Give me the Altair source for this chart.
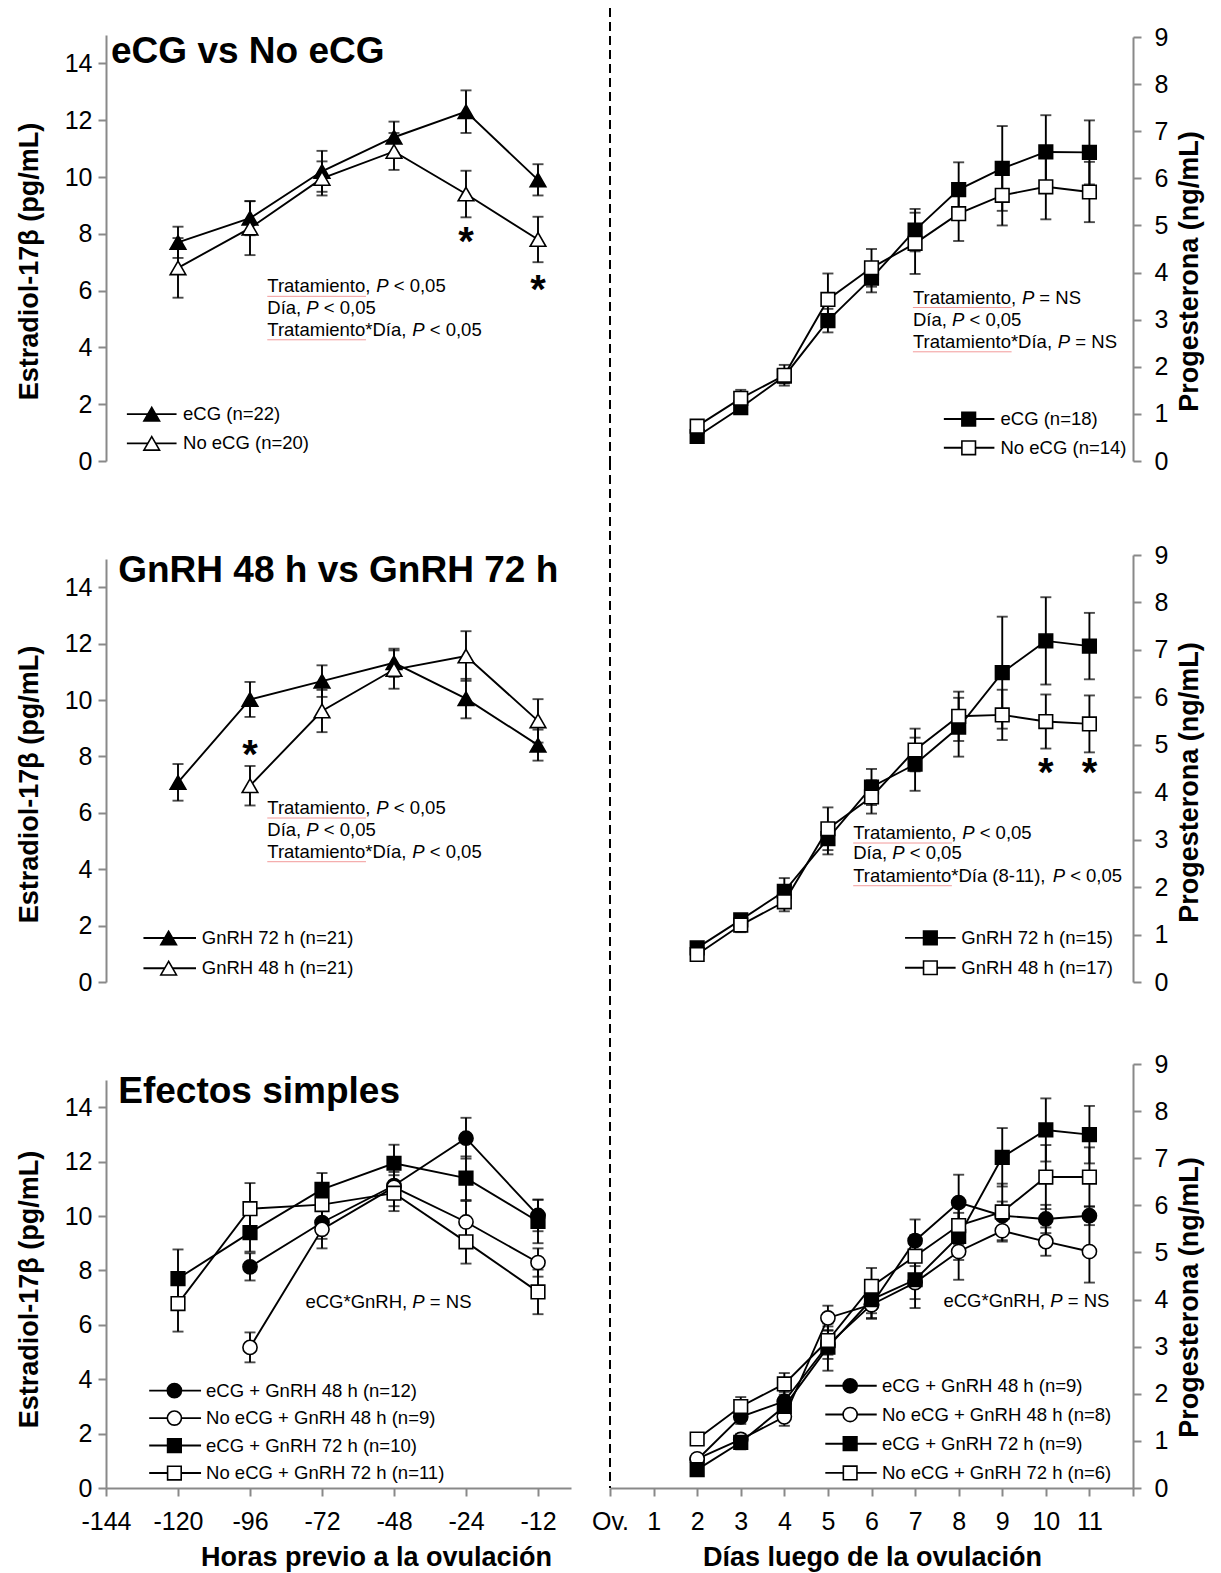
import json
import altair as alt
import pandas as pd

FONT = "Liberation Sans"
GREY = "#898989"

# ---------------------------------------------------------------- data
HOURS = ["-144", "-120", "-96", "-72", "-48", "-24", "-12"]
DAY_LABELS = ["Ov.", "1", "2", "3", "4", "5", "6", "7", "8", "9", "10", "11"]
SAMPLE_HOURS = HOURS[1:]
SAMPLE_DAYS = [2, 3, 4, 5, 6, 7, 8, 9, 10, 11]

# Estradiol-17β (pg/mL): eCG vs No eCG
e2_ecg = [7.7, 8.55, 10.2, 11.4, 12.3, 9.9]
e2_ecg_se = [0.55, 0.6, 0.72, 0.55, 0.75, 0.55]
e2_noecg = [6.8, 8.2, 9.95, 10.9, 9.4, 7.8]
e2_noecg_se = [1.05, 0.95, 0.6, 0.65, 0.82, 0.8]

# Progesterona (ng/mL): eCG vs No eCG
p4_ecg = [0.52, 1.13, 1.8, 2.98, 3.88, 4.9, 5.76, 6.21, 6.56, 6.55]
p4_ecg_se = [0.1, 0.08, 0.15, 0.25, 0.3, 0.45, 0.58, 0.9, 0.78, 0.68]
p4_noecg = [0.74, 1.33, 1.82, 3.43, 4.1, 4.62, 5.25, 5.64, 5.82, 5.71]
p4_noecg_se = [0.12, 0.18, 0.22, 0.55, 0.4, 0.65, 0.58, 0.64, 0.69, 0.64]

# Estradiol-17β: GnRH 72 h vs GnRH 48 h
e2_g72 = [7.08, 10.02, 10.67, 11.32, 10.05, 8.4]
e2_g72_se = [0.65, 0.62, 0.56, 0.5, 0.7, 0.55]
e2_g48 = [None, 6.96, 9.61, 11.08, 11.56, 9.26]
e2_g48_se = [None, 0.7, 0.75, 0.68, 0.88, 0.77]

# Progesterona: GnRH 72 h vs GnRH 48 h
p4_g72 = [0.72, 1.31, 1.91, 3.02, 4.11, 4.59, 5.37, 6.52, 7.19, 7.08]
p4_g72_se = [0.08, 0.12, 0.28, 0.33, 0.38, 0.56, 0.62, 1.18, 0.92, 0.7]
p4_g48 = [0.58, 1.2, 1.69, 3.23, 3.9, 4.89, 5.6, 5.63, 5.49, 5.44]
p4_g48_se = [0.08, 0.15, 0.2, 0.45, 0.35, 0.45, 0.52, 0.53, 0.57, 0.6]

# Estradiol-17β: efectos simples
e2_e48 = [None, 8.13, 9.76, 11.12, 12.86, 10.02]
e2_e48_se = [None, 0.5, 0.6, 0.5, 0.75, 0.58]
e2_n48 = [None, 5.17, 9.51, 11.06, 9.78, 8.29]
e2_n48_se = [None, 0.55, 0.7, 0.7, 0.77, 0.52]
e2_e72 = [7.7, 9.39, 10.98, 11.94, 11.39, 9.8]
e2_e72_se = [1.07, 0.7, 0.6, 0.68, 0.8, 0.8]
e2_n72 = [6.78, 10.27, 10.42, 10.84, 9.05, 7.21]
e2_n72_se = [1.03, 0.94, 0.6, 0.66, 0.8, 0.82]

# Progesterona: efectos simples
p4_e48 = [0.6, 1.51, 1.84, 3.04, 3.89, 5.25, 6.06, 5.78, 5.71, 5.78]
p4_e48_se = [0.1, 0.15, 0.2, 0.3, 0.28, 0.45, 0.59, 0.3, 0.3, 0.2]
p4_n48 = [0.62, 1.03, 1.51, 3.61, 3.89, 4.36, 5.02, 5.46, 5.23, 5.02]
p4_n48_se = [0.1, 0.12, 0.19, 0.26, 0.3, 0.35, 0.6, 0.23, 0.3, 0.66]
p4_e72 = [0.39, 0.97, 1.73, 2.99, 4.0, 4.42, 5.34, 7.02, 7.6, 7.5]
p4_e72_se = [0.1, 0.15, 0.2, 0.5, 0.29, 0.6, 0.5, 0.62, 0.67, 0.61]
p4_n72 = [1.04, 1.73, 2.21, 3.13, 4.28, 4.92, 5.57, 5.86, 6.6, 6.6]
p4_n72_se = [0.1, 0.2, 0.23, 0.3, 0.39, 0.45, 0.4, 0.6, 0.68, 0.63]

# ---------------------------------------------------------------- layout
LEFT_W, RIGHT_W = 465, 523
ROW_H = [426, 439, 424]
LEFT_TOP = [0, 16, 16]       # pixel offset of the 15 mark inside each row
RIGHT_TOP = [2, 12, 0]       # pixel offset of the 9 mark inside each row
ROW_GAP, COL_GAP = 82, 39
HOUR_STEP = 72.0

TRI, SQ, CIR = "triangle-up", "square", "circle"
MARK_SIZE = {TRI: 245, SQ: 185, CIR: 200}
STAT_SIZE = 18.5
LEG_SIZE = 18.5

# Liberation Sans advance widths (1/1000 em), for placing the italic P
ADV = {" ": 278, ",": 278, "*": 389, "<": 584, "=": 584, "(": 333, ")": 333,
       "-": 333, "T": 611, "r": 333, "a": 556, "t": 278, "m": 833, "i": 222,
       "e": 556, "n": 556, "o": 556, "D": 722, "í": 278, "P": 667, "N": 722,
       "S": 667, "c": 500, "C": 722, "G": 778, "R": 722, "H": 722}


def text_width(s, size):
    return sum(ADV.get(ch, 556) for ch in s) * size / 1000.0


def frame(xs, groups):
    rows = []
    for name, means, ses in groups:
        for x, m, s in zip(xs, means, ses):
            if m is None:
                continue
            rows.append({"x": x, "mean": m, "lo": m - s, "hi": m + s, "series": name})
    return pd.DataFrame(rows)


def point_style(shape, filled):
    return dict(shape=shape, filled=True, fill="black" if filled else "white",
                stroke="black", strokeWidth=1.6, size=MARK_SIZE[shape], opacity=1)


def axis_common():
    return dict(grid=False, domainColor=GREY, domainWidth=2, tickColor=GREY,
                tickWidth=2, tickSize=8, labelFont=FONT, labelFontSize=25,
                labelColor="black", labelOverlap=False, titleFont=FONT,
                titleFontSize=27, titleFontWeight="bold", titleColor="black")


def left_y_axis(title_y):
    return alt.Axis(values=list(range(0, 15, 2)), title="Estradiol-17β (pg/mL)",
                    labelPadding=6, titleAngle=270, titleAlign="center",
                    titleBaseline="middle", titleX=-77, titleY=title_y,
                    **axis_common())


def right_y_axis(title_y):
    return alt.Axis(orient="right", values=list(range(0, 10)),
                    title="Progesterona (ng/mL)", labelPadding=13,
                    titleAngle=270, titleAlign="center", titleBaseline="middle",
                    titleX=56, titleY=title_y, **axis_common())


hour_axis = alt.Axis(values=list(range(len(HOURS))),
                     labelExpr=json.dumps(HOURS) + "[datum.value]",
                     labelPadding=13, labelFlush=False,
                     title="Horas previo a la ovulación", titleBaseline="alphabetic",
                     titleAlign="center", titleX=270, titleY=77, **axis_common())

day_axis = alt.Axis(values=list(range(13)),
                    labelExpr=json.dumps(DAY_LABELS + [""]) + "[datum.value]",
                    labelPadding=13, labelFlush=False,
                    title="Días luego de la ovulación", titleBaseline="alphabetic",
                    titleAlign="center", titleX=262, titleY=77, **axis_common())


def panel(df, styles, xscale, xaxis, yscale, yaxis, width, height, extras):
    def X(f):
        return alt.X(f, type="quantitative", scale=xscale, axis=xaxis)

    def Y(f):
        return alt.Y(f, type="quantitative", scale=yscale, axis=yaxis)

    layers = []
    for name, shape, filled in styles:
        d = alt.Chart(df[df["series"] == name])
        layers.append(d.mark_rule(color="black", strokeWidth=1.9)
                      .encode(x=X("x"), y=Y("lo"), y2=alt.Y2("hi")))
        for end in ("lo", "hi"):
            layers.append(d.mark_tick(orient="horizontal", color="black",
                                      size=11, thickness=1.9)
                          .encode(x=X("x"), y=Y(end)))
    for name, shape, filled in styles:
        d = alt.Chart(df[df["series"] == name])
        layers.append(d.mark_line(color="black", strokeWidth=1.9)
                      .encode(x=X("x"), y=Y("mean")))
    for name, shape, filled in styles:
        d = alt.Chart(df[df["series"] == name])
        layers.append(d.mark_point(**point_style(shape, filled))
                      .encode(x=X("x"), y=Y("mean")))
    for build in extras:
        layers.extend(build(X, Y))
    return alt.layer(*layers).properties(width=width, height=height)


def title_layer(text, x, y):
    def build(X, Y):
        d = pd.DataFrame({"x": [x], "y": [y], "t": [text]})
        return [alt.Chart(d).mark_text(align="left", baseline="alphabetic",
                                       font=FONT, fontSize=37, fontWeight="bold",
                                       color="black")
                .encode(x=X("x"), y=Y("y"), text="t:N")]
    return build


def star_layer(xs, ys):
    def build(X, Y):
        d = pd.DataFrame({"x": xs, "y": ys, "t": ["*"] * len(xs)})
        return [alt.Chart(d).mark_text(align="center", baseline="alphabetic",
                                       dy=22, font=FONT, fontSize=40,
                                       fontWeight="bold", color="black")
                .encode(x=X("x"), y=Y("y"), text="t:N")]
    return build


def stat_layer(x0, ys, lines):
    def build(X, Y):
        out = []
        for yv, segs in zip(ys, lines):
            off = 0.0
            for seg, italic in segs:
                lead = len(seg) - len(seg.lstrip())
                d = pd.DataFrame({"x": [x0], "y": [yv], "t": [seg.strip()]})
                out.append(alt.Chart(d).mark_text(
                    align="left", baseline="middle", font=FONT, fontSize=STAT_SIZE,
                    fontStyle="italic" if italic else "normal", color="black",
                    dx=off + text_width(seg[:lead], STAT_SIZE))
                    .encode(x=X("x"), y=Y("y"), text="t:N"))
                off += text_width(seg, STAT_SIZE)
            if segs[0][0].startswith("Tratamiento"):
                d = pd.DataFrame({"x": [x0], "y": [yv]})
                out.append(alt.Chart(d).mark_rule(
                    color="#f29a9a", strokeWidth=1, yOffset=10,
                    x2Offset=text_width("Tratamiento", STAT_SIZE))
                    .encode(x=X("x"), x2=alt.X2("x"), y=Y("y")))
        return out
    return build


def legend_layer(x1, x2, xm, xt, ys, entries):
    def build(X, Y):
        out = []
        for (label, shape, filled), yv in zip(entries, ys):
            d = alt.Chart(pd.DataFrame({"x1": [x1], "x2": [x2], "xm": [xm],
                                        "xt": [xt], "y": [yv], "t": [label]}))
            out.append(d.mark_rule(color="black", strokeWidth=1.9)
                       .encode(x=X("x1"), x2=alt.X2("x2"), y=Y("y")))
            out.append(d.mark_point(**point_style(shape, filled))
                       .encode(x=X("xm"), y=Y("y")))
            out.append(d.mark_text(align="left", baseline="middle", font=FONT,
                                   fontSize=LEG_SIZE, color="black")
                       .encode(x=X("xt"), y=Y("y"), text="t:N"))
        return out
    return build


def divider_layer(top, height):
    def build(X, Y):
        d = pd.DataFrame({"x": [0]})
        return [alt.Chart(d).mark_rule(color="black", strokeWidth=2,
                                       strokeDash=[9, 5])
                .encode(x=X("x"), y=alt.value(top), y2=alt.value(height))]
    return build


P = ("P", True)
STATS_SIG = [[("Tratamiento, ", False), P, (" < 0,05", False)],
             [("Día, ", False), P, (" < 0,05", False)],
             [("Tratamiento*Día, ", False), P, (" < 0,05", False)]]
STATS_NS = [[("Tratamiento, ", False), P, (" = NS", False)],
            [("Día, ", False), P, (" < 0,05", False)],
            [("Tratamiento*Día, ", False), P, (" = NS", False)]]
STATS_GNRH_P4 = [[("Tratamiento, ", False), P, (" < 0,05", False)],
                 [("Día, ", False), P, (" < 0,05", False)],
                 [("Tratamiento*Día (8-11), ", False), P, (" < 0,05", False)]]
STATS_SIMPLE = [[("eCG*GnRH, ", False), P, (" = NS", False)]]

hour_x = [HOURS.index(h) for h in SAMPLE_HOURS]
hour_scale = alt.Scale(domain=[0, LEFT_W / HOUR_STEP], nice=False, zero=False)
day_scale = alt.Scale(domain=[0, 12], nice=False, zero=False)


def e2_scale(row):
    return alt.Scale(domain=[0, 15], range=[ROW_H[row], LEFT_TOP[row]], nice=False)


def p4_scale(row):
    return alt.Scale(domain=[0, 9], range=[ROW_H[row], RIGHT_TOP[row]], nice=False)


# ---------------------------------------------------------------- row 1
df1 = frame(hour_x, [("eCG", e2_ecg, e2_ecg_se), ("No eCG", e2_noecg, e2_noecg_se)])
c1 = panel(df1, [("eCG", TRI, True), ("No eCG", TRI, False)],
           hour_scale, None, e2_scale(0), left_y_axis(226), LEFT_W, ROW_H[0],
           [title_layer("eCG vs No eCG", 0.07, 14.0),
            star_layer([5, 6], [8.03, 6.35]),
            stat_layer(2.24, [6.15, 5.39, 4.62], STATS_SIG),
            legend_layer(0.29, 0.98, 0.635, 1.07, [1.65, 0.62],
                         [("eCG (n=22)", TRI, True), ("No eCG (n=20)", TRI, False)])])

df2 = frame(SAMPLE_DAYS, [("eCG", p4_ecg, p4_ecg_se), ("No eCG", p4_noecg, p4_noecg_se)])
c2 = panel(df2, [("eCG", SQ, True), ("No eCG", SQ, False)],
           day_scale, None, p4_scale(0), right_y_axis(236), RIGHT_W, ROW_H[0],
           [divider_layer(-27, ROW_H[0]),
            stat_layer(6.95, [3.47, 2.99, 2.53], STATS_NS),
            legend_layer(7.66, 8.82, 8.23, 8.96, [0.89, 0.28],
                         [("eCG (n=18)", SQ, True), ("No eCG (n=14)", SQ, False)])])

# ---------------------------------------------------------------- row 2
df3 = frame(hour_x, [("GnRH 72 h", e2_g72, e2_g72_se), ("GnRH 48 h", e2_g48, e2_g48_se)])
c3 = panel(df3, [("GnRH 72 h", TRI, True), ("GnRH 48 h", TRI, False)],
           hour_scale, None, e2_scale(1), left_y_axis(241), LEFT_W, ROW_H[1],
           [title_layer("GnRH 48 h vs GnRH 72 h", 0.17, 14.18),
            star_layer([2], [8.37]),
            stat_layer(2.24, [6.17, 5.39, 4.62], STATS_SIG),
            legend_layer(0.52, 1.25, 0.87, 1.33, [1.56, 0.49],
                         [("GnRH 72 h (n=21)", TRI, True), ("GnRH 48 h (n=21)", TRI, False)])])

df4 = frame(SAMPLE_DAYS, [("GnRH 72 h", p4_g72, p4_g72_se), ("GnRH 48 h", p4_g48, p4_g48_se)])
c4 = panel(df4, [("GnRH 72 h", SQ, True), ("GnRH 48 h", SQ, False)],
           day_scale, None, p4_scale(1), right_y_axis(239), RIGHT_W, ROW_H[1],
           [divider_layer(-ROW_GAP, ROW_H[1]),
            star_layer([10, 11], [4.6, 4.6]),
            stat_layer(5.58, [3.14, 2.71, 2.24], STATS_GNRH_P4),
            legend_layer(6.77, 7.93, 7.35, 8.06, [0.93, 0.3],
                         [("GnRH 72 h (n=15)", SQ, True), ("GnRH 48 h (n=17)", SQ, False)])])

# ---------------------------------------------------------------- row 3
SIMPLE_STYLES = [("eCG + GnRH 48 h", CIR, True), ("No eCG + GnRH 48 h", CIR, False),
                 ("eCG + GnRH 72 h", SQ, True), ("No eCG + GnRH 72 h", SQ, False)]

df5 = frame(hour_x, [("eCG + GnRH 48 h", e2_e48, e2_e48_se),
                     ("No eCG + GnRH 48 h", e2_n48, e2_n48_se),
                     ("eCG + GnRH 72 h", e2_e72, e2_e72_se),
                     ("No eCG + GnRH 72 h", e2_n72, e2_n72_se)])
c5 = panel(df5, SIMPLE_STYLES, hour_scale, hour_axis, e2_scale(2), left_y_axis(225),
           LEFT_W, ROW_H[2],
           [title_layer("Efectos simples", 0.17, 14.15),
            stat_layer(2.77, [6.85], STATS_SIMPLE),
            legend_layer(0.60, 1.32, 0.95, 1.39, [3.58, 2.57, 1.56, 0.55],
                         [("eCG + GnRH 48 h (n=12)", CIR, True),
                          ("No eCG + GnRH 48 h (n=9)", CIR, False),
                          ("eCG + GnRH 72 h (n=10)", SQ, True),
                          ("No eCG + GnRH 72 h (n=11)", SQ, False)])])

df6 = frame(SAMPLE_DAYS, [("eCG + GnRH 48 h", p4_e48, p4_e48_se),
                          ("No eCG + GnRH 48 h", p4_n48, p4_n48_se),
                          ("eCG + GnRH 72 h", p4_e72, p4_e72_se),
                          ("No eCG + GnRH 72 h", p4_n72, p4_n72_se)])
c6 = panel(df6, SIMPLE_STYLES, day_scale, day_axis, p4_scale(2), right_y_axis(233),
           RIGHT_W, ROW_H[2],
           [divider_layer(-ROW_GAP, ROW_H[2]),
            stat_layer(7.65, [3.96], STATS_SIMPLE),
            legend_layer(4.94, 6.12, 5.51, 6.24, [2.17, 1.56, 0.94, 0.32],
                         [("eCG + GnRH 48 h (n=9)", CIR, True),
                          ("No eCG + GnRH 48 h (n=8)", CIR, False),
                          ("eCG + GnRH 72 h (n=9)", SQ, True),
                          ("No eCG + GnRH 72 h (n=6)", SQ, False)])])

chart = (
    alt.concat(c1, c2, c3, c4, c5, c6, columns=2,
               spacing={"row": ROW_GAP, "column": COL_GAP},
               bounds="flush", align="each")
    .properties(padding={"left": 15, "top": 7, "right": 5, "bottom": 3},
                background="white")
    .configure_view(stroke=None)
)

chart.save("out.html", embed_options={"renderer": "svg", "actions": False})
